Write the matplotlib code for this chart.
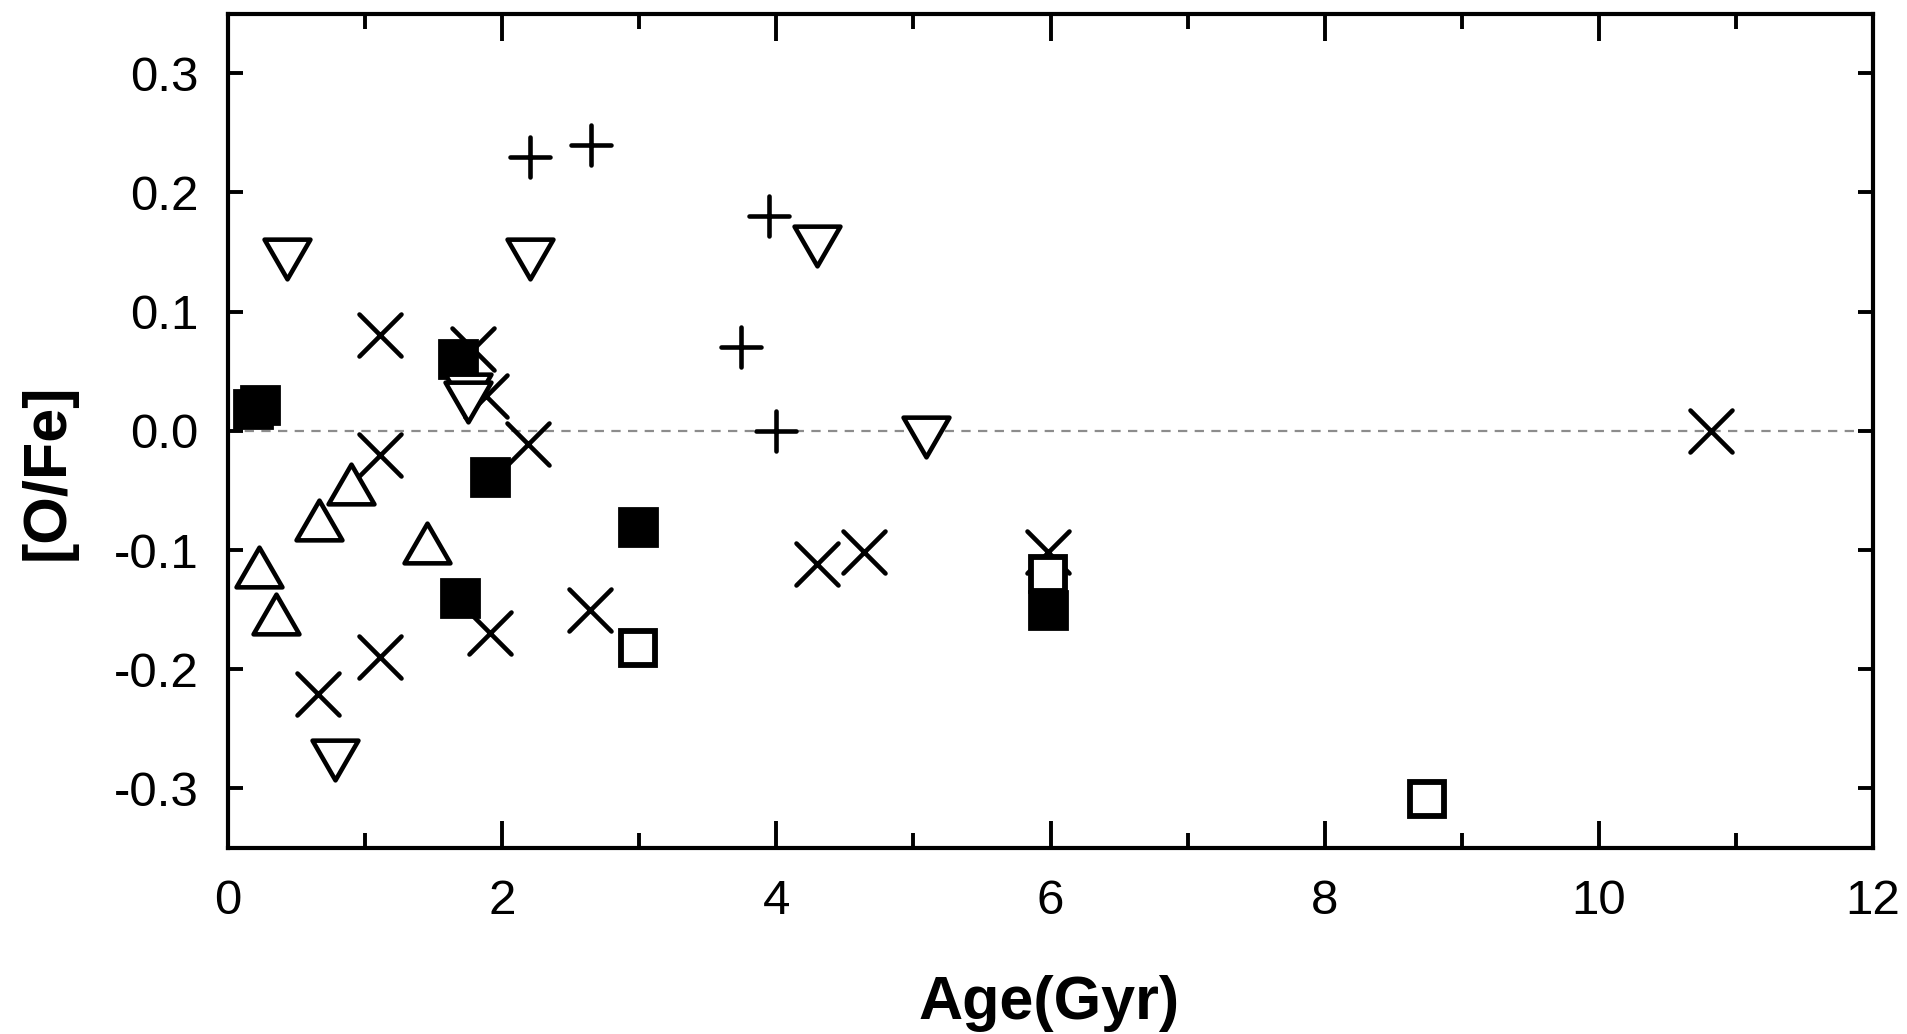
import numpy as np
import matplotlib
matplotlib.use("Agg")
import matplotlib.pyplot as plt
from matplotlib.markers import MarkerStyle
from matplotlib.path import Path
from matplotlib.ticker import MultipleLocator, FixedLocator, FixedFormatter

# ---------------- data ----------------
plus_age = [2.20, 2.65, 3.95, 3.745, 4.00]
plus_ofe = [0.230, 0.240, 0.180, 0.070, 0.000]

tdown_age = [0.43, 2.20, 4.30, 5.09, 0.78, 1.75, 1.75]
tdown_ofe = [0.144, 0.144, 0.155, -0.005, -0.276, 0.031, 0.024]

tup_age = [0.90, 0.666, 1.455, 0.227, 0.351]
tup_ofe = [-0.045, -0.075, -0.094, -0.114, -0.154]

cross_age = [1.107, 1.79, 1.88, 2.19, 1.107, 1.91, 2.64, 1.107, 0.66, 4.30, 4.64, 5.985, 10.82]
cross_ofe = [0.080, 0.069, 0.029, -0.011, -0.020, -0.170, -0.150, -0.190, -0.221, -0.112, -0.102, -0.102, 0.000]

fsq_age = [0.18, 0.23, 1.675, 1.91, 2.99, 1.69, 5.98]
fsq_ofe = [0.018, 0.022, 0.060, -0.039, -0.081, -0.140, -0.150]

osq_age = [2.99, 5.98, 8.745]
osq_ofe = [-0.182, -0.1205, -0.309]

xticks = [0, 2, 4, 6, 8, 10, 12]
yticks = [-0.3, -0.2, -0.1, 0.0, 0.1, 0.2, 0.3]
ytick_labels = ["-0.3", "-0.2", "-0.1", "0.0", "0.1", "0.2", "0.3"]

# ---------------- style ----------------
plt.rcParams['font.family'] = ['Liberation Sans', 'DejaVu Sans']
plt.rcParams['lines.scale_dashes'] = False

W, H = 1907, 1034
fig = plt.figure(figsize=(W / 100, H / 100), dpi=100)
ax = fig.add_axes([228 / W, 1 - 848 / H, 1645 / W, 834.4 / H])

ax.set_xlim(0, 12)
ax.set_ylim(-0.35, 0.35)

# reference line
ax.axhline(0, color='#8c8c8c', lw=1.6, dashes=(6.7, 5.3), zorder=1)

tri_up = Path([(0, 0.5), (-0.57735, -0.5), (0.57735, -0.5), (0, 0.5)],
              [Path.MOVETO, Path.LINETO, Path.LINETO, Path.CLOSEPOLY])
tri_down = Path([(0, -0.5), (-0.57735, 0.5), (0.57735, 0.5), (0, -0.5)],
                [Path.MOVETO, Path.LINETO, Path.LINETO, Path.CLOSEPOLY])

m_up = MarkerStyle(tri_up, joinstyle='round')
m_down = MarkerStyle(tri_down, joinstyle='round')
m_x = MarkerStyle('x', capstyle='round')
m_plus = MarkerStyle('+', capstyle='round')

LW = 3.3
ax.plot(cross_age, cross_ofe, linestyle='none', marker=m_x, ms=30.5,
        mec='black', mew=LW, zorder=3)
ax.plot(fsq_age, fsq_ofe, linestyle='none', marker='s', ms=27,
        mfc='black', mec='black', mew=2, zorder=4)
ax.plot(osq_age, osq_ofe, linestyle='none', marker='s', ms=24.5,
        mfc='white', mec='black', mew=4.2, zorder=5)
ax.plot(tup_age, tup_ofe, linestyle='none', marker=m_up, ms=33,
        mfc='white', mec='black', mew=LW, zorder=6)
ax.plot(tdown_age, tdown_ofe, linestyle='none', marker=m_down, ms=33,
        mfc='white', mec='black', mew=LW, zorder=6)
ax.plot(plus_age, plus_ofe, linestyle='none', marker=m_plus, ms=28.5,
        mec='black', mew=LW, zorder=7)

# ---------------- axes ----------------
for s in ax.spines.values():
    s.set_linewidth(3.0)

ax.xaxis.set_major_locator(FixedLocator(xticks))
ax.xaxis.set_minor_locator(MultipleLocator(1))
ax.set_xticklabels([str(v) for v in xticks])
ax.yaxis.set_major_locator(FixedLocator(yticks))
ax.yaxis.set_major_formatter(FixedFormatter(ytick_labels))

ax.tick_params(axis='both', which='both', direction='in', top=True, right=True,
               width=2.8, labelsize=35.5, colors='black')
ax.tick_params(axis='x', which='major', length=19.4, pad=22)
ax.tick_params(axis='x', which='minor', length=10.8)
ax.tick_params(axis='y', which='major', length=11, pad=21)

fig.text(1049 / W, 1 - 1003 / H, 'Age(Gyr)', ha='center', va='center',
         fontsize=44, fontweight='bold')
fig.text(48 / W, 1 - 472 / H, '[O/Fe]', ha='center', va='center',
         rotation=90, fontsize=44, fontweight='bold')

fig.savefig('out.png', dpi=100, facecolor='white')
